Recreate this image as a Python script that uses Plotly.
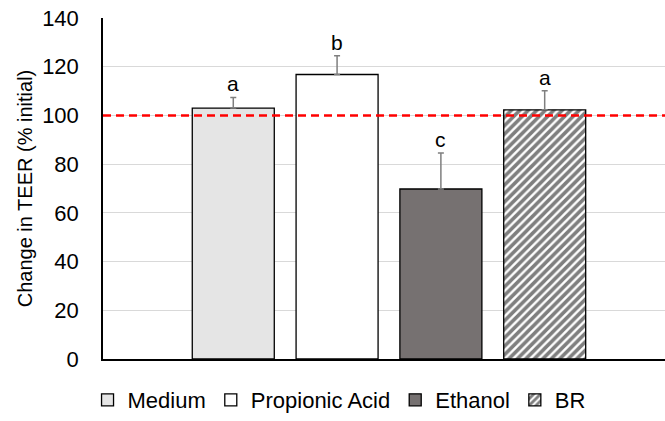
import plotly.graph_objects as go

# Treatment groups and measured TEER change (% of initial)
groups = ["Medium", "Propionic Acid", "Ethanol", "BR"]
means = [103.0, 116.8, 69.8, 102.3]
errors = [4.4, 7.7, 14.8, 7.8]
letters = ["a", "b", "c", "a"]
y_ticks = [0, 20, 40, 60, 80, 100, 120, 140]
reference_level = 100

fills = ["#e5e5e5", "#ffffff", "#767171", "#ffffff"]
patterns = ["", "", "", "/"]

FONT = "Liberation Sans, Arial, sans-serif"

fig = go.Figure()
for i, (name, m, e) in enumerate(zip(groups, means, errors)):
    fig.add_trace(go.Bar(
        x=[i], y=[m], name=name, width=0.79,
        marker=dict(
            color=fills[i],
            line=dict(color="#000000", width=1.3),
            pattern=dict(shape=patterns[i], fgcolor="#000000", bgcolor="#ffffff",
                         size=6, solidity=0.6),
        ),
        error_y=dict(type="data", array=[e], arrayminus=[0], symmetric=False,
                     color="#7f7f7f", thickness=1.5, width=3),
    ))

# Significance letters above each error bar
for i, (m, e, lab) in enumerate(zip(means, errors, letters)):
    fig.add_annotation(x=i, y=m + e, text=lab, showarrow=False,
                       yanchor="bottom", yshift=0,
                       font=dict(family=FONT, size=21, color="#000000"))

# Reference line at 100 % of initial
fig.add_shape(type="line", xref="paper", x0=0, x1=1, yref="y",
              y0=reference_level, y1=reference_level,
              line=dict(color="#ff0000", width=2.5, dash="8px,5px"), layer="above")

fig.update_layout(
    width=665, height=421,
    margin=dict(l=103, r=0, t=17.5, b=56),
    paper_bgcolor="#ffffff", plot_bgcolor="#ffffff",
    font=dict(family=FONT, size=22, color="#000000"),
    barmode="overlay",
    showlegend=True,
    legend=dict(orientation="h", x=0.42, xanchor="center", y=-0.121, yanchor="middle",
                font=dict(family=FONT, size=22, color="#000000"),
                itemwidth=30, traceorder="normal"),
    xaxis=dict(range=[-1.255, 4.159], showticklabels=False, showgrid=False,
               zeroline=False, showline=True, linecolor="#000000", linewidth=1.5,
               ticks=""),
    yaxis=dict(range=[0, 140], tickvals=y_ticks, showgrid=True, gridcolor="#d9d9d9",
               gridwidth=1, zeroline=False, showline=True, linecolor="#000000",
               linewidth=1.5, ticks="", ticklabelstandoff=18,
               tickfont=dict(family=FONT, size=22, color="#000000"),
               title=dict(text="Change in TEER (% initial)", standoff=4,
                          font=dict(family=FONT, size=20, color="#000000"))),
)

fig.write_html("out.html")
